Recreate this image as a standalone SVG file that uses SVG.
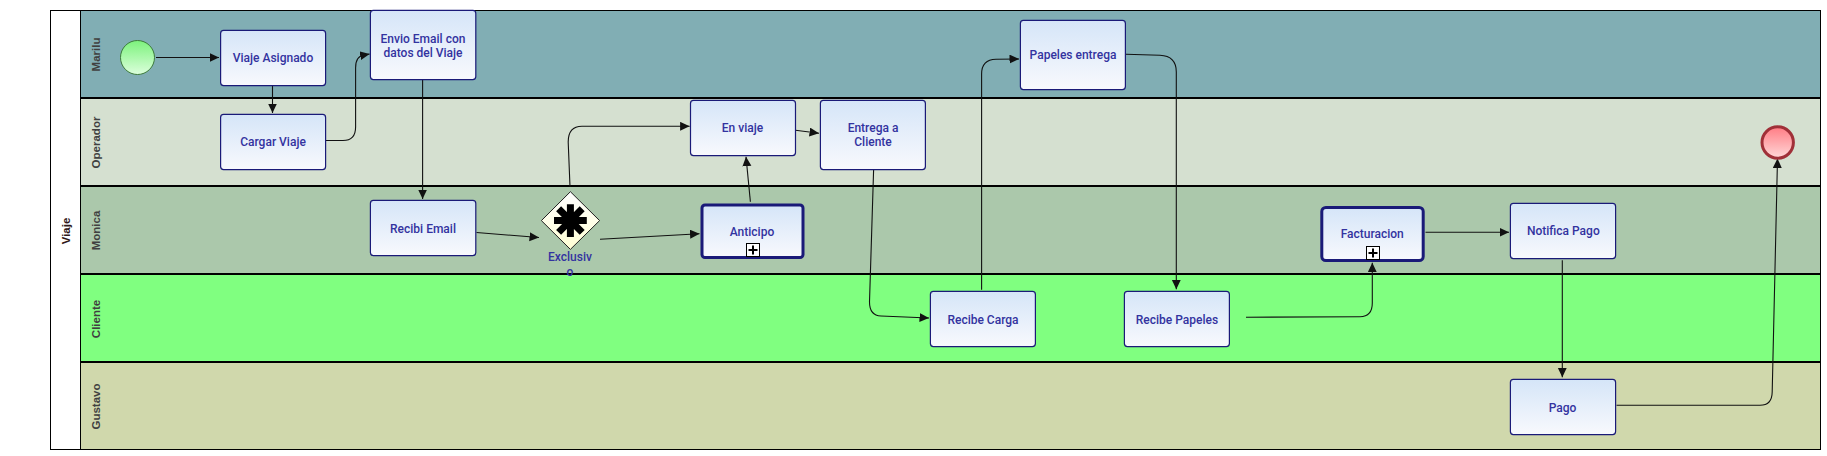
<svg xmlns="http://www.w3.org/2000/svg" width="1827" height="456" viewBox="0 0 1827 456">
<style>
.lane{stroke:none}
.sep{stroke:#000;stroke-width:2}
.task{fill:url(#taskGrad);stroke:#1a1a78;stroke-width:1.2}
.sub{fill:url(#taskGrad);stroke:#1a1a78;stroke-width:3}
.t{font-family:Roboto,"Liberation Sans",Arial,sans-serif;font-size:12px;font-weight:500;fill:#3333a0;text-anchor:middle}
.l{font-family:"Liberation Sans",Arial,sans-serif;font-size:11.5px;font-weight:bold;fill:#404040;text-anchor:middle}
.c{fill:none;stroke:#111;stroke-width:1.1;marker-end:url(#arrow)}
.plus{fill:#fff;stroke:#000;stroke-width:1}
.pm{stroke:#000;stroke-width:2;fill:none}
</style>
<defs>
<linearGradient id="taskGrad" x1="0" y1="0" x2="0" y2="1"><stop offset="0" stop-color="#d5e5f8"/><stop offset="1" stop-color="#f8f9fd"/></linearGradient>
<linearGradient id="startGrad" x1="0" y1="0" x2="0" y2="1"><stop offset="0" stop-color="#7cf27c"/><stop offset="1" stop-color="#dcffdc"/></linearGradient>
<linearGradient id="endGrad" x1="0" y1="0" x2="0" y2="1"><stop offset="0" stop-color="#ff7c84"/><stop offset="1" stop-color="#ffd8d8"/></linearGradient>
<linearGradient id="gwGrad" x1="0" y1="0" x2="0" y2="1"><stop offset="0" stop-color="#ffffff"/><stop offset="1" stop-color="#ffffd4"/></linearGradient>
<marker id="arrow" markerUnits="userSpaceOnUse" markerWidth="11" markerHeight="10" refX="9.5" refY="4.5" orient="auto"><path d="M0 0L9.5 4.5L0 9z" fill="#111"/></marker>
</defs>
<g id="pool">
<rect x="50.5" y="10.5" width="1770" height="439" fill="#fff" stroke="#000" stroke-width="1"/>
<rect class="lane" x="81" y="11" width="1739" height="87" fill="#81aeb4"/>
<rect class="lane" x="81" y="98" width="1739" height="88" fill="#d5e0d0"/>
<rect class="lane" x="81" y="186" width="1739" height="88" fill="#abc8ab"/>
<rect class="lane" x="81" y="274" width="1739" height="88" fill="#80ff80"/>
<rect class="lane" x="81" y="362" width="1739" height="87" fill="#d0d8ac"/>
<line x1="80.5" y1="10.5" x2="80.5" y2="449.5" stroke="#000" stroke-width="1"/>
<line class="sep" x1="81" y1="98" x2="1820" y2="98"/>
<line class="sep" x1="81" y1="186" x2="1820" y2="186"/>
<line class="sep" x1="81" y1="274" x2="1820" y2="274"/>
<line class="sep" x1="81" y1="362" x2="1820" y2="362"/>
<text class="l" transform="translate(70,231) rotate(-90)" style="fill:#301818">Viaje</text>
<text class="l" transform="translate(99.5,54.5) rotate(-90)">Marilu</text>
<text class="l" transform="translate(99.5,142.5) rotate(-90)">Operador</text>
<text class="l" transform="translate(99.5,230.5) rotate(-90)">Monica</text>
<text class="l" transform="translate(99.5,319) rotate(-90)">Cliente</text>
<text class="l" transform="translate(99.5,406.5) rotate(-90)">Gustavo</text>
</g>
<g id="connectors">
<path class="c" d="M156 57.5H219"/>
<path class="c" d="M272.5 86V113"/>
<path class="c" d="M326 140.5H343Q355.6 140.5 355.6 127V68Q355.6 56 364 55L369.6 54"/>
<path class="c" d="M422.6 80V199"/>
<path class="c" d="M476.5 232.5L539 237.5"/>
<path class="c" d="M570 186.7L568.2 142Q568.2 126.3 582 126.3H689.6"/>
<path class="c" d="M600 239.3L699.5 233.7"/>
<path class="c" d="M750.4 201.7L746 156.7"/>
<path class="c" d="M795.5 130.3L819 133.3"/>
<path class="c" d="M873.6 170L869.5 302Q869.5 315.5 881 316L929 318"/>
<path class="c" d="M981.6 289.7V74Q981.6 59.5 996 59.2L1019 59"/>
<path class="c" d="M1125.8 54.3L1160 55.3Q1176.3 56 1176.3 72V289.3"/>
<path class="c" d="M1246 317.3L1360 316.7Q1372.3 316.5 1372.3 303V262.7"/>
<path class="c" d="M1425.5 232.3H1509"/>
<path class="c" d="M1562.3 260.3V377.3"/>
<path class="c" d="M1616.5 405.3H1760Q1772 405.3 1772.2 392L1777.5 158.5"/>
</g>
<g id="start"><ellipse cx="137.5" cy="57.5" rx="17" ry="17" fill="url(#startGrad)" stroke="#3c7a3c" stroke-width="1"/></g>
<g id="viaje-asignado"><rect class="task" x="220.6" y="30.4" width="105" height="55.2" rx="3"/><text class="t" x="273" y="62">Viaje Asignado</text></g>
<g id="cargar-viaje"><rect class="task" x="220.6" y="114.4" width="105" height="55.2" rx="3"/><text class="t" x="273" y="146">Cargar Viaje</text></g>
<g id="envio-email"><rect class="task" x="370.4" y="10.4" width="105.4" height="69.2" rx="3"/><text class="t" x="423" y="42.5">Envio Email con</text><text class="t" x="423" y="56.5">datos del Viaje</text></g>
<g id="recibi-email"><rect class="task" x="370.4" y="200.4" width="105.4" height="55.2" rx="3"/><text class="t" x="423" y="232.5">Recibi Email</text></g>
<g id="exclusivo"><path d="M570.4 191.7L599.6 220.6L570.4 249.4L541.4 220.6z" fill="url(#gwGrad)" stroke="#222" stroke-width="1"/>
<path d="M570.4 204.3V237M554 220.6H586.8M558.6 208.8L582.2 232.4M582.2 208.8L558.6 232.4" stroke="#000" stroke-width="7" fill="none"/>
<text class="t" x="570" y="261">Exclusiv</text><text class="t" x="570" y="275.5">o</text></g>
<g id="en-viaje"><rect class="task" x="690.5" y="100.4" width="105" height="55.2" rx="3"/><text class="t" x="742.5" y="132">En viaje</text></g>
<g id="entrega-cliente"><rect class="task" x="820.4" y="100.4" width="105" height="69.2" rx="3"/><text class="t" x="873" y="132">Entrega a</text><text class="t" x="873" y="146">Cliente</text></g>
<g id="papeles-entrega"><rect class="task" x="1020.4" y="20.4" width="105" height="69.2" rx="3"/><text class="t" x="1073" y="59">Papeles entrega</text></g>
<g id="anticipo"><rect class="sub" x="702" y="205" width="101" height="52.5" rx="3"/><text class="t" x="752" y="235.5">Anticipo</text><rect class="plus" x="746.5" y="243.5" width="13" height="13"/><path class="pm" d="M748.5 250H757.5M753 245.5V254.5"/></g>
<g id="recibe-carga"><rect class="task" x="930.4" y="291.4" width="105" height="55.2" rx="3"/><text class="t" x="983" y="323.5">Recibe Carga</text></g>
<g id="recibe-papeles"><rect class="task" x="1124.4" y="291.4" width="105" height="55.2" rx="3"/><text class="t" x="1177" y="323.5">Recibe Papeles</text></g>
<g id="facturacion"><rect class="sub" x="1321.8" y="207.5" width="101.4" height="53" rx="4"/><text class="t" x="1372.2" y="238">Facturacion</text><rect class="plus" x="1366.5" y="246.5" width="13" height="13"/><path class="pm" d="M1368.5 253H1377.5M1373 248.5V257.5"/></g>
<g id="notifica-pago"><rect class="task" x="1510.4" y="203.4" width="105.2" height="55.2" rx="3"/><text class="t" x="1563.3" y="235">Notifica Pago</text></g>
<g id="pago"><rect class="task" x="1510.4" y="379.4" width="105.2" height="55.2" rx="3"/><text class="t" x="1562.5" y="411.5">Pago</text></g>
<g id="end"><ellipse cx="1777.7" cy="142.5" rx="15.7" ry="15.7" fill="url(#endGrad)" stroke="#a03038" stroke-width="3"/></g>
</svg>
